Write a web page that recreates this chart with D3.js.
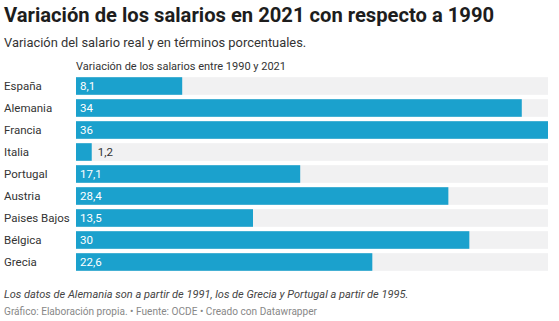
<!DOCTYPE html>
<html><head><meta charset="utf-8">
<script src="https://cdn.jsdelivr.net/npm/d3@7"></script>
<style>
body{margin:0;background:#fff;font-family:Roboto,"Noto Sans",sans-serif;}
</style></head><body>
<svg id="c" width="559" height="321"></svg>
<script>
const categories = ["España","Alemania","Francia","Italia","Portugal","Austria","Paises Bajos","Bélgica","Grecia"];
const values = [8.1,34,36,1.2,17.1,28.4,13.5,30,22.6];
const title = "Variación de los salarios en 2021 con respecto a 1990";
const subtitle = "Variación del salario real y en términos porcentuales.";
const colHeader = "Variación de los salarios entre 1990 y 2021";
const note = "Los datos de Alemania son a partir de 1991, los de Grecia y Portugal a partir de 1995.";
const footer = "Gráfico: Elaboración propia. • Fuente: OCDE • Creado con Datawrapper";

const svg = d3.select("#c");
const fmt = v => String(v).replace(".", ",");

svg.append("text").attr("x",4).attr("y",22).attr("font-size",20.2).attr("font-weight",700).attr("fill","#1d1d1d").text(title);
svg.append("text").attr("x",4).attr("y",47).attr("font-size",12.9).attr("fill","#333").text(subtitle);
svg.append("text").attr("x",76).attr("y",70).attr("font-size",11).attr("fill","#333").text(colHeader);

const x = d3.scaleLinear().domain([0,36]).range([76,548]);
const y = d3.scaleBand().domain(categories).range([75,273]).paddingInner(0.2).paddingOuter(0.1);

const g = svg.append("g");
const rows = g.selectAll("g.row").data(categories.map((c,i)=>({c,v:values[i]}))).join("g");
rows.append("rect").attr("x",x(0)).attr("y",d=>y(d.c)).attr("width",x(36)-x(0)).attr("height",y.bandwidth()).attr("fill","#f1f1f2");
rows.append("rect").attr("x",x(0)).attr("y",d=>y(d.c)).attr("width",d=>x(d.v)-x(0)).attr("height",y.bandwidth()).attr("fill","#1ba1cd");
rows.append("text").attr("x",4).attr("y",d=>y(d.c)+y.bandwidth()/2).attr("dy","0.35em").attr("font-size",11.5).attr("fill","#333").text(d=>d.c);
rows.append("text")
  .attr("x",d=> (x(d.v)-x(0) > 30) ? x(0)+4 : x(d.v)+6)
  .attr("y",d=>y(d.c)+y.bandwidth()/2).attr("dy","0.35em").attr("font-size",11.5)
  .attr("fill",d=> (x(d.v)-x(0) > 30) ? "#fff" : "#333").text(d=>fmt(d.v));

svg.append("text").attr("x",4).attr("y",298).attr("font-size",11).attr("font-style","italic").attr("fill","#444").text(note);
svg.append("text").attr("x",4).attr("y",315).attr("font-size",10.1).attr("fill","#888").text(footer);
</script>
</body></html>
